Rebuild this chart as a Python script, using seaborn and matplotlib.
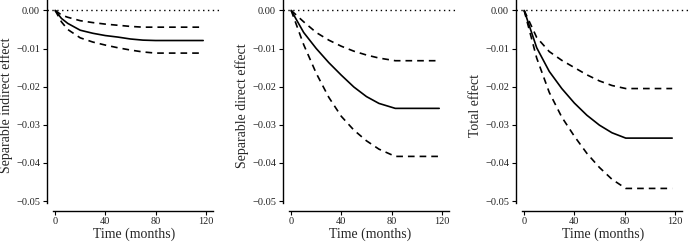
import numpy as np
import pandas as pd
import seaborn as sns
import matplotlib.pyplot as plt

sns.set_style("ticks")
plt.rcParams['font.family'] = ['Liberation Serif', 'DejaVu Serif']

# separable indirect effect
t_ind = [0, 5, 10, 20, 30, 40, 50, 60, 70, 80, 118]
ind_est = [0, -0.0021, -0.0034, -0.0052, -0.0060, -0.0066, -0.0070, -0.0075, -0.0078, -0.0079, -0.0079]
ind_hi = [0, -0.0012, -0.0018, -0.0027, -0.0032, -0.0036, -0.0039, -0.0042, -0.0044, -0.0044, -0.0044]
ind_lo = [0, -0.0030, -0.0050, -0.0072, -0.0083, -0.0091, -0.0098, -0.0104, -0.0109, -0.0112, -0.0112]

# separable direct effect
t_dir = [0, 10, 20, 30, 40, 50, 60, 70, 83, 118]
dir_est = [0, -0.0058, -0.0100, -0.0137, -0.0170, -0.0201, -0.0226, -0.0244, -0.0257, -0.0257]
dir_hi = [0, -0.0030, -0.0058, -0.0078, -0.0094, -0.0107, -0.0117, -0.0125, -0.0132, -0.0132]
dir_lo = [0, -0.0090, -0.0165, -0.0228, -0.0278, -0.0314, -0.0342, -0.0364, -0.0383, -0.0383]

# total effect
t_tot = [0, 10, 20, 30, 40, 50, 60, 70, 81, 118]
tot_est = [0, -0.0098, -0.0160, -0.0205, -0.0243, -0.0275, -0.0301, -0.0321, -0.0335, -0.0335]
tot_hi = [0, -0.0071, -0.0108, -0.0131, -0.0150, -0.0169, -0.0185, -0.0197, -0.0205, -0.0205]
tot_lo = [0, -0.0125, -0.0215, -0.0280, -0.0330, -0.0375, -0.0412, -0.0443, -0.0467, -0.0467]

panels = [
    ("Separable indirect effect", t_ind, ind_est, ind_hi, ind_lo),
    ("Separable direct effect", t_dir, dir_est, dir_hi, dir_lo),
    ("Total effect", t_tot, tot_est, tot_hi, tot_lo),
]

fig = plt.figure(figsize=(6.9, 2.42), dpi=100)
lefts = [47, 283, 516]
width = 175

for left, (label, t, est, hi, lo) in zip(lefts, panels):
    ax = fig.add_axes([left / 690, 0.13, width / 690, 0.868])
    ax.axhline(0, color='black', linestyle=(0, (1, 2.5)), linewidth=1)
    sns.lineplot(x=t, y=est, ax=ax, color='black', linewidth=1.2)
    sns.lineplot(x=t, y=hi, ax=ax, color='black', linewidth=1.2, linestyle=(0, (4, 3)))
    sns.lineplot(x=t, y=lo, ax=ax, color='black', linewidth=1.2, linestyle=(0, (4, 3)))

    ax.set_xlim(-6.5, 133)
    ax.set_ylim(-0.0525, 0.0026)
    ax.set_xticks([0, 40, 80, 120])
    ax.set_yticks([0, -0.01, -0.02, -0.03, -0.04, -0.05])
    ax.set_yticklabels(["0.00", "\u22120.01", "\u22120.02", "\u22120.03", "\u22120.04", "\u22120.05"])
    sns.despine(ax=ax)
    ax.spines['left'].set_bounds(-0.0505, 0.0026)
    ax.spines['bottom'].set_bounds(-1.5, 126)
    for s in ['left', 'bottom']:
        ax.spines[s].set_linewidth(1)
        ax.spines[s].set_color('black')
    ax.tick_params(labelsize=7.5, length=3, width=0.8, pad=2, colors='black', labelcolor='#222222')
    ax.set_xlabel("Time (months)", fontsize=10, labelpad=1)
    ax.set_ylabel(label, fontsize=10, labelpad=2)

fig.savefig("out.png", dpi=100)
